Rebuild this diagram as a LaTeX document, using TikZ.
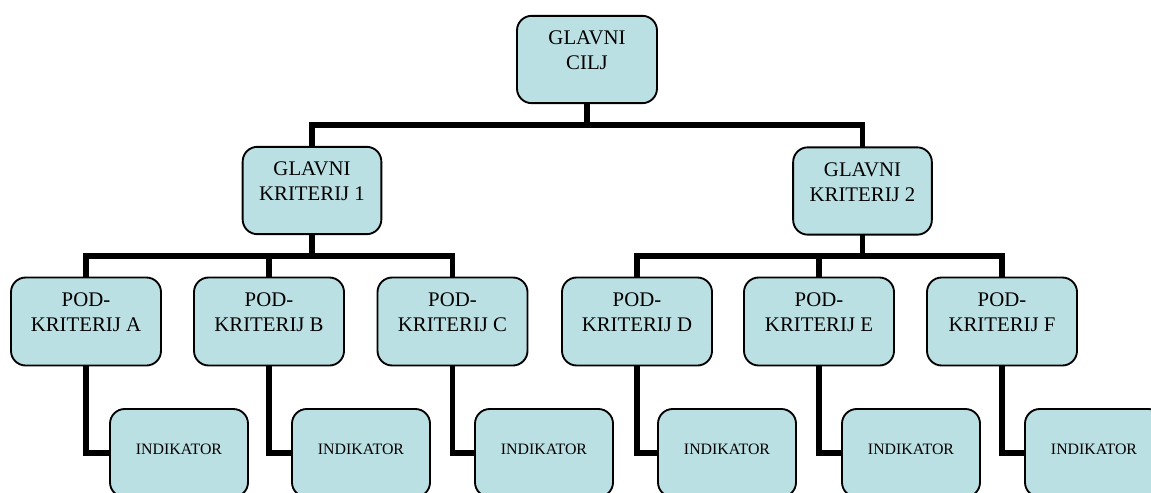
\documentclass[tikz,border=0pt]{standalone}
\usepackage{fontspec}
\setmainfont{Liberation Serif}
\usetikzlibrary{backgrounds}
\definecolor{boxfill}{RGB}{187,224,227}
\tikzset{
  box/.style={draw=black, line width=1.4pt, rounded corners=11pt, fill=boxfill,
    align=center, inner sep=0pt, text depth=13.5pt,
    font=\fontsize{15.6}{18.75}\selectfont},
  wide/.style={box, minimum width=112.5pt, minimum height=66pt},
  narrow/.style={box, minimum width=104pt, minimum height=65.5pt},
  indbox/.style={box, minimum width=103.5pt, minimum height=66pt,
    text depth=5pt, font=\fontsize{11.9}{14}\selectfont},
  conn/.style={line width=4.2pt, line cap=rect, line join=miter}
}
\begin{document}
\begin{tikzpicture}[x=0.75pt, y=-0.75pt]
\useasboundingbox (0,0) rectangle (1151,492);
\clip (0,0) rectangle (1151,492);

% goal and main criteria
\node[narrow, minimum width=105pt] (cilj) at (587,59.5) {GLAVNI\\CILJ};
\node[narrow] (gk1) at (312,190.5) {GLAVNI\\KRITERIJ 1};
\node[narrow] (gk2) at (862.5,191) {GLAVNI\\KRITERIJ 2};

% sub-criteria
\node[wide] (pa) at (86,321.5)   {POD-\\KRITERIJ A};
\node[wide] (pb) at (269,321.5)  {POD-\\KRITERIJ B};
\node[wide] (pc) at (452.5,321.5){POD-\\KRITERIJ C};
\node[wide] (pd) at (637,321.5)  {POD-\\KRITERIJ D};
\node[wide] (pe) at (819,321.5)  {POD-\\KRITERIJ E};
\node[wide] (pf) at (1002,321.5) {POD-\\KRITERIJ F};

% indicators
\node[indbox] (ia) at (179,453)  {INDIKATOR};
\node[indbox] (ib) at (361,453)  {INDIKATOR};
\node[indbox] (ic) at (544,453)  {INDIKATOR};
\node[indbox] (id) at (727,453)  {INDIKATOR};
\node[indbox] (ie) at (911,453)  {INDIKATOR};
\node[indbox] (if) at (1094,453) {INDIKATOR};

% bus junctions
\coordinate (b0) at (587,125);
\coordinate (b1) at (312,256);
\coordinate (b2) at (862.5,256);

\begin{pgfonlayer}{background}
  \draw[conn] (cilj.south) -- (b0);
  \draw[conn] (gk1.north) |- (b0) -| (gk2.north);

  \draw[conn] (gk1.south) -- (b1);
  \draw[conn] (pa.north) |- (b1) -| (pc.north);
  \draw[conn] (pb.north) -- (pb.north |- b1);

  \draw[conn] (gk2.south) -- (b2);
  \draw[conn] (pd.north) |- (b2) -| (pf.north);
  \draw[conn] (pe.north) -- (pe.north |- b2);

  \draw[conn] (pa.south) |- (ia.west);
  \draw[conn] (pb.south) |- (ib.west);
  \draw[conn] (pc.south) |- (ic.west);
  \draw[conn] (pd.south) |- (id.west);
  \draw[conn] (pe.south) |- (ie.west);
  \draw[conn] (pf.south) |- (if.west);
\end{pgfonlayer}
\end{tikzpicture}
\end{document}
